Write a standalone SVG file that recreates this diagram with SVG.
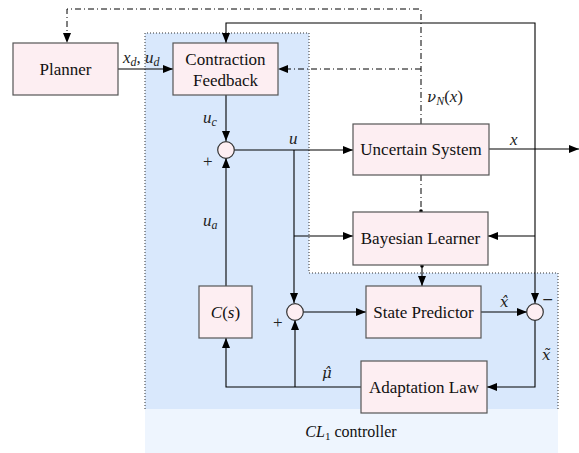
<svg xmlns="http://www.w3.org/2000/svg" width="579" height="453" viewBox="0 0 579 453">
<defs>
<marker id="ah" viewBox="0 0 10 8" refX="10" refY="4" markerWidth="10" markerHeight="8" markerUnits="userSpaceOnUse" orient="auto">
<path d="M0,0 L10,4 L0,8 z" fill="#000"/>
</marker>
<marker id="dot" viewBox="0 0 4 4" refX="2" refY="2" markerWidth="4" markerHeight="4" markerUnits="userSpaceOnUse">
<circle cx="2" cy="2" r="1.8" fill="#000"/>
</marker>
</defs>
<style>
.box{fill:#fdeef2;stroke:#555;stroke-width:1.2}
.sum{fill:#fdeef2;stroke:#333;stroke-width:1.2}
.lbl{font-size:17px;fill:#111;text-anchor:middle}
.m{font-style:italic;font-size:17px;fill:#222}
.n{font-style:normal}
.sub{font-size:12px}
.w{fill:none;stroke:#000;stroke-width:1.1}
.dd{fill:none;stroke:#000;stroke-width:1;stroke-dasharray:6 3 1 3}
</style>
<g id="regions">
<rect x="145" y="409" width="413" height="44" fill="#eef5fe"/>
<path d="M145,33 H309 V273 H558 V409 H145 Z" fill="#d9e8fc"/>
<path d="M145,409 V33 H309 V273 H558 V409" fill="none" stroke="#333" stroke-width="1" stroke-dasharray="1 2"/>
<text x="351" y="437" class="lbl" font-family="Liberation Serif" style="font-size:16px"><tspan font-style="italic">CL</tspan><tspan font-size="11" dy="3">1</tspan><tspan dy="-3"> controller</tspan></text>
</g>
<g id="connectors">
<path class="w" d="M118,69 H173" marker-end="url(#ah)"/>
<path class="w" d="M226,95 V141" marker-end="url(#ah)"/>
<path class="w" d="M226,286 V158" marker-end="url(#ah)"/>
<path class="w" d="M234,150 H353" marker-end="url(#ah)"/>
<path class="w" d="M489,149 H579" marker-end="url(#ah)"/>
<path class="w" d="M294,150 V303" marker-end="url(#ah)"/>
<path class="w" d="M294,236 H353" marker-end="url(#ah)"/>
<path class="w" d="M303,312 H366" marker-end="url(#ah)"/>
<path class="w" d="M481,312 H527" marker-end="url(#ah)"/>
<path class="w" d="M535,320 V387 H487" marker-end="url(#ah)"/>
<path class="w" d="M361,387 H226 V338" marker-end="url(#ah)"/>
<path class="w" d="M295,387 V320" marker-end="url(#ah)"/>
<path class="w" d="M535,150 V23 H226 V43" marker-end="url(#ah)"/>
<path class="w" d="M535,150 V303" marker-end="url(#ah)"/>
<path class="w" d="M535,236 H488" marker-end="url(#ah)"/>
<path class="w" d="M422,266 V286" marker-start="url(#dot)" marker-end="url(#ah)"/>
<path class="dd" d="M421,124 V9 H67 V43" marker-end="url(#ah)"/>
<path class="dd" d="M421,69 H278" marker-end="url(#ah)"/>
<path class="dd" d="M421,175 V211" marker-end="url(#dot)"/>
</g>
<g id="planner"><rect class="box" x="13" y="43" width="105" height="52"/><text class="lbl" font-family="Liberation Serif" x="65.5" y="75">Planner</text></g>
<g id="contraction"><rect class="box" x="173" y="43" width="105" height="52"/><text class="lbl" font-family="Liberation Serif" x="225.5" y="65">Contraction</text><text class="lbl" font-family="Liberation Serif" x="225.5" y="86">Feedback</text></g>
<g id="uncertain"><rect class="box" x="353" y="124" width="136" height="51"/><text class="lbl" font-family="Liberation Serif" x="421" y="155">Uncertain System</text></g>
<g id="bayesian"><rect class="box" x="353" y="212" width="135" height="53"/><text class="lbl" font-family="Liberation Serif" x="420.5" y="244">Bayesian Learner</text></g>
<g id="predictor"><rect class="box" x="366" y="286" width="115" height="52"/><text class="lbl" font-family="Liberation Serif" x="423.5" y="318">State Predictor</text></g>
<g id="adaptation"><rect class="box" x="361" y="361" width="126" height="52"/><text class="lbl" font-family="Liberation Serif" x="424" y="393">Adaptation Law</text></g>
<g id="cs"><rect class="box" x="199" y="286" width="53" height="52"/><text class="lbl" font-family="Liberation Serif" x="225.5" y="318"><tspan font-style="italic">C</tspan>(<tspan font-style="italic">s</tspan>)</text></g>
<g id="sum1"><circle class="sum" cx="226" cy="150" r="8.3"/></g>
<g id="sum2"><circle class="sum" cx="295" cy="312" r="8.3"/></g>
<g id="sum3"><circle class="sum" cx="535" cy="312" r="8.3"/></g>
<g id="labels">
<text class="m" font-family="Liberation Serif" x="123" y="63">x<tspan class="sub" dy="3">d</tspan><tspan dy="-3" class="n">, </tspan>u<tspan class="sub" dy="3">d</tspan></text>
<text class="m" font-family="Liberation Serif" x="203" y="123">u<tspan class="sub" dy="3">c</tspan></text>
<text class="m" font-family="Liberation Serif" x="289" y="144">u</text>
<text class="m n" font-family="Liberation Serif" x="203" y="167">+</text>
<text class="m" font-family="Liberation Serif" x="203" y="226">u<tspan class="sub" dy="3">a</tspan></text>
<text class="m n" font-family="Liberation Serif" x="273" y="328">+</text>
<text class="m" font-family="DejaVu Serif" x="427" y="102" style="font-size:15px">ν<tspan class="sub" dy="3" font-family="Liberation Serif">N</tspan><tspan dy="-3" class="n" font-family="Liberation Serif" style="font-size:17px">(</tspan><tspan font-family="Liberation Serif" style="font-size:17px">x</tspan><tspan class="n" font-family="Liberation Serif" style="font-size:17px">)</tspan></text>
<text class="m" font-family="Liberation Serif" x="510" y="145">x</text>
<text class="m" font-family="DejaVu Serif" x="500" y="307" style="font-size:15px">x̂</text>
<text class="m n" font-family="DejaVu Serif" x="542" y="304" style="font-size:14px">−</text>
<text class="m" font-family="DejaVu Serif" x="542" y="360" style="font-size:15px">x̃</text>
<text class="m" font-family="DejaVu Serif" x="322" y="378" style="font-size:15px">μ̂</text>
</g>
</svg>
